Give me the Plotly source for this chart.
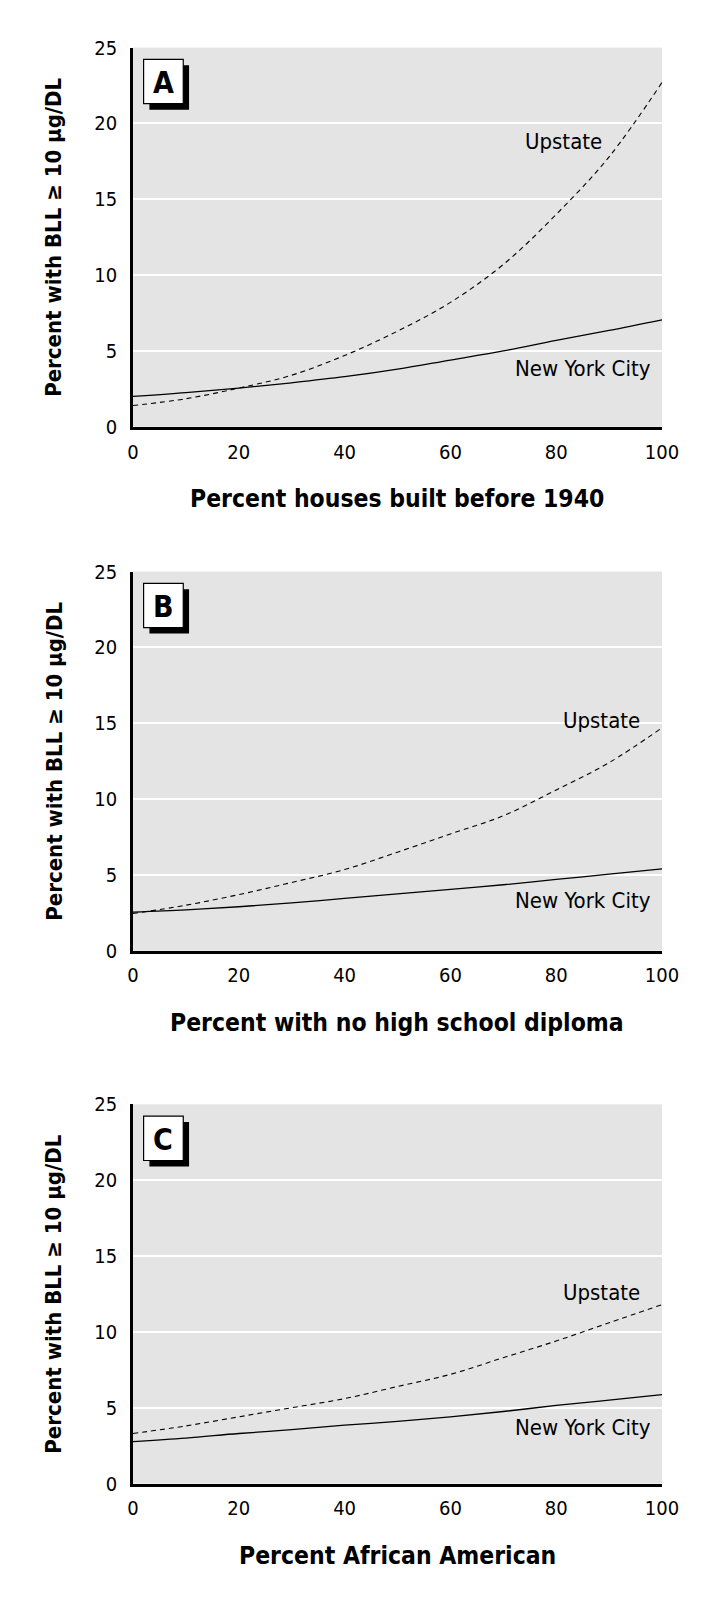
import plotly.graph_objects as go

# ---------------- data ----------------
x_pct = [0, 10, 20, 30, 40, 50, 60, 70, 80, 90, 100]

a_nyc = [2.0, 2.25, 2.55, 2.9, 3.3, 3.8, 4.4, 5.0, 5.7, 6.35, 7.05]
a_upstate = [1.4, 1.85, 2.55, 3.4, 4.7, 6.3, 8.2, 10.7, 14.0, 17.8, 22.7]

b_nyc = [2.55, 2.7, 2.9, 3.15, 3.45, 3.75, 4.05, 4.35, 4.7, 5.05, 5.4]
b_upstate = [2.45, 3.0, 3.7, 4.5, 5.35, 6.5, 7.7, 8.9, 10.6, 12.4, 14.7]

c_nyc = [2.77, 3.0, 3.3, 3.55, 3.85, 4.1, 4.4, 4.75, 5.15, 5.5, 5.87]
c_upstate = [3.3, 3.8, 4.4, 5.0, 5.6, 6.4, 7.2, 8.3, 9.4, 10.6, 11.8]

panel_letters = ["A", "B", "C"]
x_titles = ["Percent houses built before 1940",
            "Percent with no high school diploma",
            "Percent African American"]
y_title = "Percent with BLL \u2265 10 \u03bcg/DL"
x_ticks = [0, 20, 40, 60, 80, 100]
y_ticks = [0, 5, 10, 15, 20, 25]
upstate_label_pos = [(89, 18.8), (96.2, 15.2), (96.2, 12.6)]
nyc_label_pos = [(98.3, 3.85), (98.3, 3.3), (98.3, 3.7)]

# ---------------- layout geometry (page pixels) ----------------
PAGE_W, PAGE_H = 717, 1606
BODY = 8                      # default <body> margin of the html page
W, H = PAGE_W - 2 * BODY, PAGE_H - 2 * BODY
PL, PR = 131, 678
panel_top = [36, 568, 1109]
PH = 385

NARROW = "'Liberation Sans Narrow', 'Arial Narrow', 'DejaVu Sans Condensed', sans-serif"


def px(xp):
    return (xp - BODY) / W


def py(yp):
    return 1 - (yp - BODY) / H


fig = go.Figure()
series = [(a_nyc, a_upstate), (b_nyc, b_upstate), (c_nyc, c_upstate)]
shapes = []
annotations = []

for i in range(3):
    sfx = "" if i == 0 else str(i + 1)
    xa, ya = "x" + sfx, "y" + sfx
    nyc, up = series[i]
    fig.add_trace(go.Scatter(x=x_pct, y=nyc, mode="lines", xaxis=xa, yaxis=ya,
                             line=dict(color="black", width=1.3, shape="spline"),
                             showlegend=False, hoverinfo="skip"))
    fig.add_trace(go.Scatter(x=x_pct, y=up, mode="lines", xaxis=xa, yaxis=ya,
                             line=dict(color="black", width=1.1, dash="5px,4px", shape="spline"),
                             showlegend=False, hoverinfo="skip"))
    top = panel_top[i]
    bot = top + PH
    common = dict(showline=True, linecolor="black", linewidth=2.5, mirror=False,
                  zeroline=False, ticks="outside", tickcolor="rgba(0,0,0,0)",
                  tickfont=dict(family=NARROW, size=20, color="black"))
    fig.layout["xaxis" + sfx] = dict(domain=[px(PL), px(PR)], anchor=ya, range=[0, 100],
                                     tickvals=x_ticks, showgrid=False, ticklen=5, **common)
    fig.layout["yaxis" + sfx] = dict(domain=[py(bot), py(top)], anchor=xa, range=[0, 25],
                                     tickvals=y_ticks, showgrid=True, gridcolor="white",
                                     gridwidth=1.5, ticklen=9, **common)
    # panel letter box with shadow
    bx0, by0 = PL + 11, top + 12
    bw, bh, off = 41, 45, 6
    shapes.append(dict(type="rect", xref="paper", yref="paper", layer="above",
                       x0=px(bx0 + off), x1=px(bx0 + bw + off), y0=py(by0 + bh + off), y1=py(by0 + off),
                       fillcolor="black", line=dict(width=0)))
    shapes.append(dict(type="rect", xref="paper", yref="paper", layer="above",
                       x0=px(bx0), x1=px(bx0 + bw), y0=py(by0 + bh), y1=py(by0),
                       fillcolor="white", line=dict(color="black", width=1.2)))
    annotations.append(dict(text="<b>" + panel_letters[i] + "</b>", xref="paper", yref="paper",
                            x=px(bx0 + bw / 2), y=py(by0 + bh / 2 + 1), xanchor="center", yanchor="middle",
                            showarrow=False, font=dict(family=NARROW, size=30, color="black")))
    # curve labels
    ux, uy = upstate_label_pos[i]
    annotations.append(dict(text="Upstate", xref=xa, yref=ya, x=ux, y=uy, xanchor="right",
                            yanchor="middle", showarrow=False,
                            font=dict(family=NARROW, size=22, color="black")))
    nx, ny = nyc_label_pos[i]
    annotations.append(dict(text="New York City", xref=xa, yref=ya, x=nx, y=ny, xanchor="right",
                            yanchor="middle", showarrow=False,
                            font=dict(family=NARROW, size=22, color="black")))
    # axis titles
    annotations.append(dict(text="<b>" + x_titles[i] + "</b>", xref="paper", yref="paper",
                            x=px((PL + PR) / 2), y=py(bot + 73), xanchor="center", yanchor="middle",
                            showarrow=False, font=dict(family=NARROW, size=24.5, color="black")))
    annotations.append(dict(text="<b>" + y_title + "</b>", xref="paper", yref="paper",
                            x=px(49), y=py((top + bot) / 2), xanchor="center", yanchor="middle",
                            textangle=-90, showarrow=False,
                            font=dict(family=NARROW, size=22, color="black")))

fig.update_layout(width=W, height=H, margin=dict(l=0, r=0, t=0, b=0),
                  paper_bgcolor="white", plot_bgcolor="#e4e4e4",
                  shapes=shapes, annotations=annotations, showlegend=False)

fig.write_html("out.html", config={"displayModeBar": False})
